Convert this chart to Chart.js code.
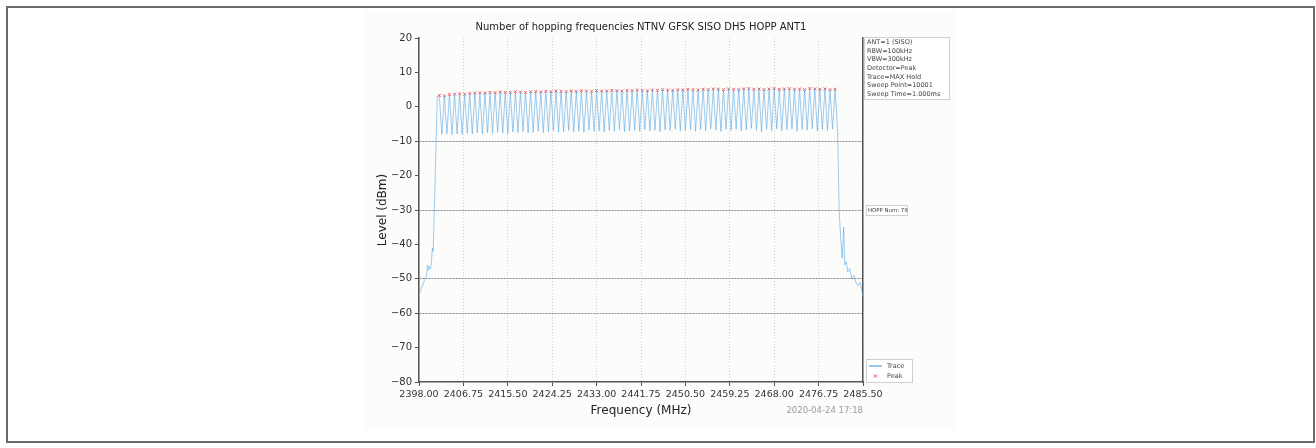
<!DOCTYPE html>
<html>
<head>
<meta charset="utf-8">
<script src="https://cdn.jsdelivr.net/npm/chart.js@4"></script>
<style>
  html, body { margin: 0; padding: 0; background: #fff; }
  #wrap { position: relative; width: 1316px; height: 448px; }
  #frame { position: absolute; left: 6px; top: 6px; width: 1305px; height: 433px; border: 2px solid #6a6a6a; }
  canvas { position: absolute; left: 0; top: 0; }
</style>
</head>
<body>
<div id="wrap">
  <canvas id="spec" width="1316" height="448"></canvas>
  <div id="frame"></div>
</div>
<script>
// ------------------------
// Data
// ------------------------
const xTicks = [2398.00, 2406.75, 2415.50, 2424.25, 2433.00, 2441.75, 2450.50, 2459.25, 2468.00, 2476.75, 2485.50];
const yTicks = [20, 10, 0, -10, -20, -30, -40, -50, -60, -70, -80];
const darkGrid = [-10, -30, -50, -60];

const channelFreq = [
  2402, 2403, 2404, 2405, 2406, 2407, 2408, 2409, 2410, 2411,
  2412, 2413, 2414, 2415, 2416, 2417, 2418, 2419, 2420, 2421,
  2422, 2423, 2424, 2425, 2426, 2427, 2428, 2429, 2430, 2431,
  2432, 2433, 2434, 2435, 2436, 2437, 2438, 2439, 2440, 2441,
  2442, 2443, 2444, 2445, 2446, 2447, 2448, 2449, 2450, 2451,
  2452, 2453, 2454, 2455, 2456, 2457, 2458, 2459, 2460, 2461,
  2462, 2463, 2464, 2465, 2466, 2467, 2468, 2469, 2470, 2471,
  2472, 2473, 2474, 2475, 2476, 2477, 2478, 2479, 2480
];
const peakLevel = [
  3.3, 3.2, 3.6, 3.7, 3.8, 3.7, 3.9, 4.0, 4.1, 4.0,
  4.2, 4.1, 4.3, 4.2, 4.2, 4.4, 4.3, 4.2, 4.4, 4.5,
  4.3, 4.5, 4.4, 4.6, 4.5, 4.4, 4.6, 4.5, 4.7, 4.6,
  4.5, 4.7, 4.6, 4.6, 4.8, 4.7, 4.6, 4.8, 4.7, 4.9,
  4.8, 4.7, 4.9, 4.8, 5.0, 4.9, 4.8, 5.0, 4.9, 5.1,
  5.0, 4.9, 5.1, 5.0, 5.2, 5.1, 5.0, 5.2, 5.1, 5.0,
  5.2, 5.3, 5.1, 5.2, 5.0, 5.2, 5.3, 5.1, 5.2, 5.3,
  5.1, 5.2, 5.0, 5.3, 5.2, 5.1, 5.2, 5.0, 5.1
];
// level of the notch between channel i and i+1
const dipLevel = [
  -8.0, -7.8, -8.1, -7.9, -8.0, -7.7, -7.9, -7.6, -7.8, -7.5,
  -7.7, -7.4, -7.6, -7.8, -7.3, -7.5, -7.2, -7.6, -7.4, -7.1,
  -7.5, -7.3, -7.0, -7.4, -7.2, -6.9, -7.3, -7.1, -7.4, -6.8,
  -7.2, -7.0, -7.3, -6.9, -7.1, -6.7, -7.2, -7.0, -6.8, -7.1,
  -6.6, -7.0, -6.8, -7.2, -6.7, -6.9, -6.5, -7.0, -6.8, -6.6,
  -7.1, -6.7, -6.9, -6.4, -6.8, -7.2, -6.6, -6.9, -6.5, -7.0,
  -6.7, -6.3, -6.8, -7.3, -6.6, -6.9, -6.4, -7.0, -6.7, -6.5,
  -7.1, -6.6, -6.8, -6.4, -7.0, -6.6, -6.9, -6.5
];
const leftTailFreq  = [2398.0, 2398.4, 2398.8, 2399.2, 2399.5, 2399.7, 2399.9, 2400.1, 2400.3, 2400.5, 2400.65, 2400.8, 2401.2, 2401.6];
const leftTailLevel = [-54.5, -53.0, -51.5, -50.0, -49.0, -46.0, -47.5, -46.5, -47.0, -44.0, -41.0, -42.0, -20.0, 3.0];
const rightTailFreq  = [2480.5, 2480.8, 2481.1, 2481.4, 2481.7, 2481.9, 2482.2, 2482.5, 2482.9, 2483.3, 2483.7, 2484.1, 2484.5, 2484.9, 2485.2, 2485.5];
const rightTailLevel = [-7.0, -30.0, -38.0, -44.0, -35.0, -46.0, -45.0, -48.0, -47.0, -50.0, -49.0, -51.0, -52.0, -51.0, -53.0, -55.0];

const infoLines = ["ANT=1 (SISO)", "RBW=100kHz", "VBW=300kHz", "Detector=Peak", "Trace=MAX Hold", "Sweep Point=10001", "Sweep Time=1.000ms"];
const hoppText = "HOPP Num: 79";
const titleText = "Number of hopping frequencies NTNV GFSK SISO DH5 HOPP ANT1";
const dateText = "2020-04-24 17:18";

// ------------------------
// Build the trace
// ------------------------
const trace = [];
leftTailFreq.forEach((f, i) => trace.push({ x: f, y: leftTailLevel[i] }));
channelFreq.forEach((f, i) => {
    trace.push({ x: f, y: peakLevel[i] });
    if (i < dipLevel.length) trace.push({ x: (f + channelFreq[i + 1]) / 2, y: dipLevel[i] });
});
rightTailFreq.forEach((f, i) => trace.push({ x: f, y: rightTailLevel[i] }));
const peaks = channelFreq.map((f, i) => ({ x: f, y: peakLevel[i] }));

const FONT = "DejaVu Sans";
const TRACE_COLOR = "rgba(90,170,228,0.75)";
const PEAK_COLOR = "rgba(235,60,60,0.9)";

// ------------------------
// Extra text (title, boxes, legend)
// ------------------------
const decorations = {
    id: "decorations",
    beforeDraw(chart) {
        const c = chart.ctx;
        c.save();
        c.fillStyle = "#fcfcfb";
        c.fillRect(365, 10, 590, 420);
        c.restore();
    },
    afterDraw(chart) {
        const c = chart.ctx;
        const a = chart.chartArea;
        c.save();
        c.fillStyle = "#222";
        c.textBaseline = "middle";

        c.font = `10px "${FONT}"`;
        c.textAlign = "center";
        c.fillText(titleText, (a.left + a.right) / 2, 27);

        c.font = `12px "${FONT}"`;
        c.fillText("Frequency (MHz)", (a.left + a.right) / 2, 411);
        c.save();
        c.translate(383, (a.top + a.bottom) / 2);
        c.rotate(-Math.PI / 2);
        c.fillText("Level (dBm)", 0, 0);
        c.restore();

        c.font = `8.5px "${FONT}"`;
        c.fillStyle = "#999";
        c.textAlign = "right";
        c.fillText(dateText, a.right, 411);

        // info box
        c.fillStyle = "#fff";
        c.strokeStyle = "#cfcfcf";
        c.lineWidth = 1;
        c.fillRect(864.5, 37.5, 85, 62);
        c.strokeRect(864.5, 37.5, 85, 62);
        c.fillStyle = "#444";
        c.textAlign = "left";
        c.font = `6.5px "${FONT}"`;
        infoLines.forEach((t, i) => c.fillText(t, 867, 42.5 + i * 8.6));

        // hopping count box
        c.fillStyle = "#fff";
        c.fillRect(866.5, 205.5, 41, 10);
        c.strokeRect(866.5, 205.5, 41, 10);
        c.fillStyle = "#444";
        c.font = `5.4px "${FONT}"`;
        c.fillText(hoppText, 868, 210.5);

        // legend
        c.fillStyle = "#fff";
        c.fillRect(866.5, 359.5, 46, 23);
        c.strokeRect(866.5, 359.5, 46, 23);
        c.strokeStyle = "rgba(70,150,220,0.9)";
        c.lineWidth = 1.2;
        c.beginPath();
        c.moveTo(869, 366);
        c.lineTo(882, 366);
        c.stroke();
        c.strokeStyle = PEAK_COLOR;
        c.lineWidth = 1;
        c.beginPath();
        c.moveTo(874, 374.5); c.lineTo(877, 377.5);
        c.moveTo(877, 374.5); c.lineTo(874, 377.5);
        c.stroke();
        c.fillStyle = "#444";
        c.font = `6.5px "${FONT}"`;
        c.fillText(chart.data.datasets[0].label, 887, 366);
        c.fillText(chart.data.datasets[1].label, 887, 376);
        c.restore();
    }
};

new Chart(document.getElementById("spec").getContext("2d"), {
    type: "line",
    data: {
        datasets: [
            {
                label: "Trace",
                data: trace,
                borderColor: TRACE_COLOR,
                borderWidth: 0.8,
                pointRadius: 0,
                tension: 0,
                fill: false
            },
            {
                label: "Peak",
                data: peaks,
                showLine: false,
                pointStyle: "crossRot",
                pointRadius: 2,
                borderColor: PEAK_COLOR,
                pointBorderWidth: 0.9
            }
        ]
    },
    options: {
        responsive: false,
        animation: false,
        devicePixelRatio: 1,
        layout: { padding: { left: 369, right: 453, top: 38, bottom: 26 } },
        plugins: { legend: { display: false }, tooltip: { enabled: false } },
        scales: {
            x: {
                type: "linear",
                min: xTicks[0],
                max: xTicks[xTicks.length - 1],
                afterBuildTicks: s => { s.ticks = xTicks.map(v => ({ value: v })); },
                afterFit: s => { s.height = 40; },
                ticks: {
                    font: { family: FONT, size: 9.5 },
                    color: "#333",
                    padding: 3,
                    maxRotation: 0,
                    autoSkip: false,
                    callback: v => v.toFixed(2)
                },
                grid: { color: "#d2d2d2", lineWidth: 1, tickLength: 4, tickColor: "#555" },
                border: { color: "#555", width: 1.5, dash: [1, 2] }
            },
            y: {
                min: yTicks[yTicks.length - 1],
                max: yTicks[0],
                afterBuildTicks: s => { s.ticks = yTicks.map(v => ({ value: v })); },
                afterFit: s => { s.width = 50; },
                ticks: {
                    font: { family: FONT, size: 10 },
                    color: "#333",
                    padding: 3,
                    callback: v => (v < 0 ? "\u2212" + Math.abs(v) : String(v))
                },
                grid: {
                    color: ctx => (ctx.tick && darkGrid.includes(ctx.tick.value) ? "#8a8a8a" : "rgba(0,0,0,0)"),
                    lineWidth: 1,
                    tickLength: 4,
                    tickColor: "#555"
                },
                border: { color: "#555", width: 1.5, dash: [2, 1] }
            },
            yRight: {
                position: "right",
                min: yTicks[yTicks.length - 1],
                max: yTicks[0],
                afterFit: s => { s.width = 0; },
                ticks: { display: false },
                grid: { drawOnChartArea: false, drawTicks: false },
                border: { color: "#555", width: 1.5 }
            }
        }
    },
    plugins: [decorations]
});
</script>
</body>
</html>
